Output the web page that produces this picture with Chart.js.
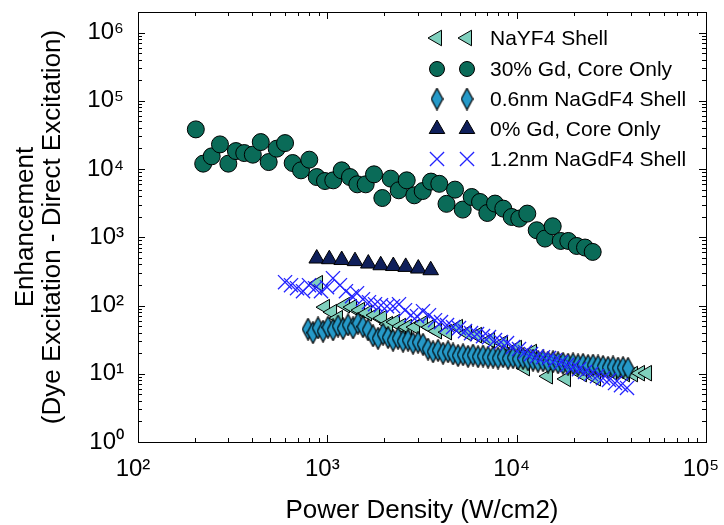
<!DOCTYPE html>
<html>
<head>
<meta charset="utf-8">
<script src="https://cdn.jsdelivr.net/npm/chart.js@4.4.1/dist/chart.umd.min.js"></script>
<style>
  html, body { margin: 0; padding: 0; background: #fff; }
  canvas { display: block; }
</style>
</head>
<body>
<canvas id="c" width="724" height="525"></canvas>
<script>
// ---------- data ----------
const seriesNames = ['NaYF4 Shell', '30% Gd, Core Only', '0.6nm NaGdF4 Shell', '0% Gd, Core Only', '1.2nm NaGdF4 Shell'];

const powerNaYF4 = [893, 972, 1059, 1138, 1240, 1350, 1488, 1620, 1786, 1945, 2091, 2278, 2450, 2635, 2904, 3201, 3486, 3795, 4287, 4900, 5467, 6173, 7232, 8471, 10042, 11066, 12050, 14638, 18220, 22140, 26240, 31890, 37350, 41170, 44830, 48810];
const enhNaYF4 = [212.3, 94.6, 79.9, 65.3, 101.2, 94.6, 85.5, 77.2, 72.2, 65.3, 53.3, 57.1, 49.9, 48.2, 48.2, 55.1, 48.2, 42.1, 40.7, 48.2, 39.4, 36.8, 31.1, 28.1, 23.8, 12.1, 20.8, 9.2, 8.4, 9.9, 8.6, 10.6, 9.9, 9.9, 10.2, 10.2];

const powerGd30 = [202, 221, 245, 271, 300, 329, 364, 404, 445, 490, 540, 598, 656, 726, 803, 879, 972, 1075, 1191, 1317, 1440, 1594, 1764, 1952, 2161, 2383, 2626, 2879, 3189, 3527, 3903, 4260, 4725, 5188, 5787, 6404, 6997, 7685, 8502, 9414, 10320, 11380, 12760, 14120, 15500, 17090, 18740, 20760, 22960, 25210];
const enhGd30 = [38100, 11990, 15340, 22960, 11990, 18330, 17140, 16230, 24830, 12650, 19870, 23990, 12240, 9570, 13710, 7630, 6670, 6830, 9570, 7630, 5970, 5970, 8360, 3760, 7230, 4880, 6830, 4120, 4760, 6540, 6070, 3090, 4990, 2545, 3890, 3290, 2270, 3115, 2630, 1983, 1879, 2223, 1267, 957, 1449, 883, 883, 746, 707, 610];

const powerShell06 = [791, 840, 893, 949, 1008, 1072, 1139, 1210, 1286, 1367, 1452, 1543, 1640, 1743, 1852, 1968, 2092, 2223, 2362, 2510, 2668, 2835, 3013, 3201, 3402, 3615, 3842, 4083, 4339, 4611, 4900, 5207, 5534, 5881, 6249, 6642, 7058, 7501, 7971, 8471, 9002, 9566, 10165, 10803, 11480, 12200, 12966, 13779, 14643, 15560, 16536, 17573, 18675, 19846, 21090, 22414, 23819, 25312, 26899, 28586, 30378, 32283, 34307, 36459, 38745];
const enhShell06 = [45, 40, 47, 42, 48, 44, 50, 46, 52, 47, 55, 49, 44, 36, 33, 38, 34, 31, 33, 30, 31, 28, 29, 27, 23, 21, 22, 20, 21, 19.5, 18.5, 19, 18, 18.8, 17.8, 18.2, 17.5, 17.5, 17, 17.8, 16.8, 17.2, 16.5, 16.8, 16, 15.8, 15.2, 15.5, 14.8, 15, 14.5, 14.2, 13.8, 14, 13.5, 13.7, 13.2, 13.4, 13, 12.8, 12.4, 12.6, 12.1, 12.3, 12];

const powerGd0 = [879, 1024, 1191, 1400, 1646, 1914, 2231, 2594, 3023, 3516];
const enhGd0 = [488, 477, 464, 447, 412, 389, 379, 368, 348, 329];

const powerShell12 = [598, 643, 692, 744, 800, 861, 926, 996, 1071, 1166, 1254, 1350, 1435, 1543, 1660, 1786, 1921, 2066, 2223, 2391, 2572, 2767, 2976, 3201, 3443, 3704, 3985, 4287, 4611, 4960, 5335, 5739, 6173, 6640, 7143, 7684, 8266, 8892, 9565, 10289, 11066, 11903, 12805, 13774, 14817, 15938, 17145, 18443, 19839, 21341, 22959, 24695, 26566, 28576, 30739, 33066, 35569, 38262];
const enhShell12 = [219.6, 198.5, 179.4, 162.1, 198.5, 179.4, 162.1, 185.5, 251.2, 198.5, 162.1, 137, 151.6, 123.8, 111.9, 104.6, 101.2, 97.8, 97.8, 104.6, 85.5, 72.2, 69.8, 82.6, 72.2, 61, 57.1, 51.6, 48.2, 46.6, 42.1, 39.4, 38.1, 35.6, 34.4, 31.1, 29.1, 28.1, 24.6, 23, 20.8, 19.4, 18.1, 17.5, 17, 15.8, 14.8, 13.4, 12.5, 11.7, 10.6, 9.9, 9.2, 8.6, 8.1, 7.3, 6.8, 6.2];

const xTickValues = [100, 1000, 10000, 100000];
const xTickLabels = ['10\u00B2', '10\u00B3', '10\u2074', '10\u2075'];
const yTickValues = [1, 10, 100, 1000, 10000, 100000, 1000000];
const yTickLabels = ['10\u2070', '10\u00B9', '10\u00B2', '10\u00B3', '10\u2074', '10\u2075', '10\u2076'];

const xTitle = 'Power Density (W/cm2)';
const yTitle = ['Enhancement', '(Dye Excitation - Direct Excitation)'];

// ---------- styles ----------
const FONT = 'Arial, "Liberation Sans", Helvetica, sans-serif';
const colNaYF4 = '#7fd0bd';
const colGd30 = '#0a6b58';
const colShell06 = '#2599c8';
const colGd0 = '#0f1f5a';
const colShell12 = '#2424ff';

function diamondImage(w, h, fill) {
  const c = document.createElement('canvas');
  c.width = w; c.height = h;
  const g = c.getContext('2d');
  g.beginPath();
  g.moveTo(w / 2, 0.7);
  g.lineTo(w - 0.7, h / 2);
  g.lineTo(w / 2, h - 0.7);
  g.lineTo(0.7, h / 2);
  g.closePath();
  g.fillStyle = fill; g.fill();
  g.lineWidth = 1.2; g.strokeStyle = '#000'; g.stroke();
  return c;
}
const diamond = diamondImage(13, 23, colShell06);

const toPts = (xs, ys) => xs.map((x, i) => ({ x: x, y: ys[i] }));

const datasets = [
  { label: seriesNames[0], data: toPts(powerNaYF4, enhNaYF4), pointStyle: 'triangle', rotation: -90, radius: 9,
    backgroundColor: colNaYF4, borderColor: '#000', borderWidth: 1, order: 5 },
  { label: seriesNames[1], data: toPts(powerGd30, enhGd30), pointStyle: 'circle', radius: 8.5,
    backgroundColor: colGd30, borderColor: '#000', borderWidth: 1, order: 4 },
  { label: seriesNames[2], data: toPts(powerShell06, enhShell06), pointStyle: diamond, radius: 7,
    backgroundColor: colShell06, borderColor: '#000', borderWidth: 1, order: 3 },
  { label: seriesNames[3], data: toPts(powerGd0, enhGd0), pointStyle: 'triangle', rotation: 0, radius: 9,
    backgroundColor: colGd0, borderColor: '#000', borderWidth: 1, order: 2 },
  { label: seriesNames[4], data: toPts(powerShell12, enhShell12), pointStyle: 'crossRot', radius: 10,
    backgroundColor: colShell12, borderColor: colShell12, borderWidth: 1.3, order: 1 }
];
datasets.forEach(d => {
  d.pointRadius = d.radius; d.pointRotation = d.rotation || 0;
  d.pointBackgroundColor = d.backgroundColor; d.pointBorderColor = d.borderColor; d.pointBorderWidth = d.borderWidth;
  d.showLine = false;
});

// ---------- inward ticks, frame and legend ----------
const framePlugin = {
  id: 'frame',
  afterDraw(chart) {
    const ctx = chart.ctx;
    const a = chart.chartArea;
    const xs = chart.scales.x, ys = chart.scales.y;
    ctx.save();
    ctx.strokeStyle = '#000';
    ctx.lineWidth = 1;
    for (let e = 2; e <= 5; e++) {
      for (let m = 1; m <= 9; m++) {
        const v = m * Math.pow(10, e);
        if (v > xs.max * 1.0001) break;
        const px = Math.round(xs.getPixelForValue(v)) + 0.5;
        const len = m === 1 ? 7 : 4;
        ctx.beginPath();
        ctx.moveTo(px, a.bottom); ctx.lineTo(px, a.bottom - len);
        ctx.moveTo(px, a.top); ctx.lineTo(px, a.top + len);
        ctx.stroke();
      }
    }
    for (let e = 0; e <= 6; e++) {
      for (let m = 1; m <= 9; m++) {
        const v = m * Math.pow(10, e);
        if (v > ys.max * 1.0001) break;
        const py = Math.round(ys.getPixelForValue(v)) + 0.5;
        const len = m === 1 ? 7 : 4;
        ctx.beginPath();
        ctx.moveTo(a.left, py); ctx.lineTo(a.left + len, py);
        ctx.moveTo(a.right, py); ctx.lineTo(a.right - len, py);
        ctx.stroke();
      }
    }
    ctx.strokeRect(Math.round(a.left) + 0.5, Math.round(a.top) + 0.5,
                   Math.round(a.right - a.left), Math.round(a.bottom - a.top));

    const rowY = [38, 69, 99, 129, 159];
    const m1 = 437, m2 = 467, tx = 490;
    ctx.font = '21px ' + FONT;
    ctx.textBaseline = 'middle';
    ctx.textAlign = 'left';
    datasets.forEach((d, i) => {
      const y = rowY[i];
      [m1, m2].forEach(x => {
        ctx.save();
        ctx.fillStyle = d.backgroundColor;
        ctx.strokeStyle = d.borderColor;
        ctx.lineWidth = d.borderWidth;
        Chart.helpers.drawPoint(ctx, {
          pointStyle: d.pointStyle,
          rotation: d.rotation || 0,
          radius: d.pointStyle === 'circle' ? 7.5 : (d.pointStyle === 'crossRot' ? 10 : 9),
          borderWidth: d.borderWidth
        }, x, y);
        ctx.restore();
      });
      ctx.fillStyle = '#000';
      ctx.fillText(d.label, tx, y + 1);
    });
    ctx.restore();
  }
};

new Chart(document.getElementById('c'), {
  type: 'scatter',
  data: { datasets: datasets },
  options: {
    responsive: false,
    animation: false,
    devicePixelRatio: 1,
    layout: { padding: { top: 12, right: 18, left: 0, bottom: 0 } },
    plugins: { legend: { display: false }, tooltip: { enabled: false } },
    scales: {
      x: {
        type: 'logarithmic', min: 100, max: 100000,
        afterBuildTicks: s => { s.ticks = xTickValues.map(v => ({ value: v })); },
        afterFit: s => { s.height = 83; s.paddingLeft = 0; s.paddingRight = 0; },
        grid: { display: false, drawTicks: false },
        border: { display: false },
        ticks: {
          autoSkip: false, maxRotation: 0, padding: 13, labelOffset: -5,
          color: '#000', font: { family: FONT, size: 24 },
          callback: (v, i) => xTickLabels[i]
        },
        title: { display: true, text: xTitle, color: '#000',
                 font: { family: FONT, size: 26, lineHeight: 1.05 }, padding: { top: 0, bottom: 1 } }
      },
      y: {
        type: 'logarithmic', min: 1, max: 2000000,
        afterBuildTicks: s => { s.ticks = yTickValues.map(v => ({ value: v })); },
        afterFit: s => { s.width = 138; s.paddingTop = 0; s.paddingBottom = 0; },
        grid: { display: false, drawTicks: false },
        border: { display: false },
        ticks: {
          autoSkip: false, padding: 14,
          color: '#000', font: { family: FONT, size: 24 },
          callback: (v, i) => yTickLabels[i]
        },
        title: { display: true, text: yTitle, color: '#000',
                 font: { family: FONT, size: 26, lineHeight: 1.05 }, padding: { top: 12, bottom: 0 } }
      }
    }
  },
  plugins: [framePlugin]
});
</script>
</body>
</html>
